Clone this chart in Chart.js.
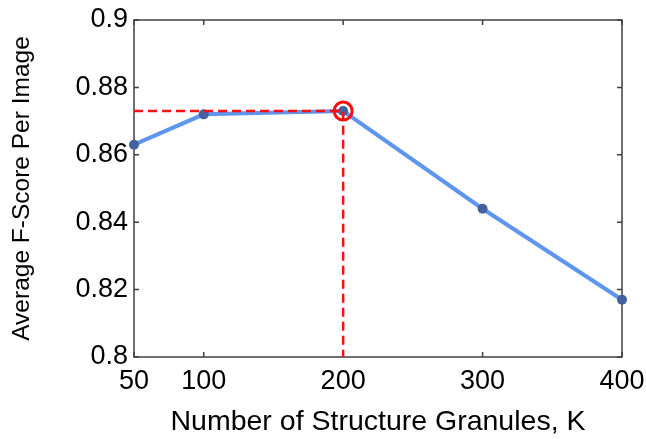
<!DOCTYPE html>
<html>
<head>
<meta charset="utf-8">
<script src="https://cdn.jsdelivr.net/npm/chart.js@4"></script>
<style>
html,body{margin:0;padding:0;background:#fff;}
canvas{display:block;}
</style>
</head>
<body>
<canvas id="c" width="646" height="439"></canvas>
<script>
const kValues = [50, 100, 200, 300, 400];
const fScores = [0.863, 0.872, 0.873, 0.844, 0.817];
const xTickValues = [50, 100, 200, 300, 400];
const xTickLabels = ['50', '100', '200', '300', '400'];
const yTickValues = [0.8, 0.82, 0.84, 0.86, 0.88, 0.9];
const yTickLabels = ['0.8', '0.82', '0.84', '0.86', '0.88', '0.9'];
const bestK = 200;
const bestScore = 0.873;
const xTitle = 'Number of Structure Granules, K';
const yTitle = 'Average F-Score Per Image';

const FONT = 'Liberation Sans, Arial, sans-serif';

const boxPlugin = {
  id: 'box',
  beforeDatasetsDraw(chart) {
    const {ctx, chartArea: a, scales} = chart;
    ctx.save();
    ctx.strokeStyle = '#404040';
    ctx.lineWidth = 1.5;
    ctx.strokeRect(a.left, a.top, a.right - a.left, a.bottom - a.top);
    const tl = 5;
    ctx.beginPath();
    xTickValues.forEach(v => {
      const px = scales.x.getPixelForValue(v);
      ctx.moveTo(px, a.bottom); ctx.lineTo(px, a.bottom - tl);
      ctx.moveTo(px, a.top); ctx.lineTo(px, a.top + tl);
    });
    yTickValues.forEach(v => {
      const py = scales.y.getPixelForValue(v);
      ctx.moveTo(a.left, py); ctx.lineTo(a.left + tl, py);
      ctx.moveTo(a.right, py); ctx.lineTo(a.right - tl, py);
    });
    ctx.stroke();
    ctx.restore();
  }
};

const lineData = kValues.map((k, i) => ({x: k, y: fScores[i]}));

new Chart(document.getElementById('c'), {
  type: 'scatter',
  data: {
    datasets: [
      {
        data: [{x: bestK, y: bestScore}],
        showLine: false,
        pointRadius: 9,
        pointBorderWidth: 3,
        pointBorderColor: '#ff1010',
        pointBackgroundColor: 'rgba(0,0,0,0)',
        clip: false
      },
      {
        data: [{x: kValues[0], y: bestScore}, {x: bestK, y: bestScore}, {x: bestK, y: yTickValues[0]}],
        showLine: true,
        borderColor: '#ff1010',
        borderWidth: 2.5,
        borderDash: [9, 5],
        pointRadius: 0,
        fill: false
      },
      {
        data: lineData,
        showLine: true,
        borderColor: '#5e95ee',
        borderWidth: 4,
        pointRadius: 5,
        pointBorderWidth: 0,
        pointBackgroundColor: '#44619e',
        fill: false,
        clip: false
      }
    ]
  },
  options: {
    responsive: false,
    animation: false,
    devicePixelRatio: 1,
    layout: {padding: {left: 0, right: 24, top: 20, bottom: 0}},
    plugins: {legend: {display: false}, tooltip: {enabled: false}},
    scales: {
      x: {
        type: 'linear',
        min: 50, max: 400,
        grid: {display: false, drawTicks: false},
        border: {display: false},
        afterBuildTicks: s => { s.ticks = xTickValues.map(v => ({value: v})); },
        afterFit: s => { s.height = 82; s.paddingLeft = 0; s.paddingRight = 0; },
        ticks: {
          padding: 8,
          color: '#000',
          font: {family: FONT, size: 27},
          maxRotation: 0,
          autoSkip: false,
          callback: (v) => xTickLabels[xTickValues.indexOf(v)]
        },
        title: {
          display: true,
          text: xTitle,
          color: '#000',
          font: {family: FONT, size: 28.5, lineHeight: 1.2},
          padding: {top: 0, bottom: 0}
        }
      },
      y: {
        type: 'linear',
        min: 0.8, max: 0.9,
        grid: {display: false, drawTicks: false},
        border: {display: false},
        afterBuildTicks: s => { s.ticks = yTickValues.map(v => ({value: v})); },
        afterFit: s => { s.width = 134; s.paddingTop = 0; s.paddingBottom = 0; },
        ticks: {
          padding: 6,
          color: '#000',
          font: {family: FONT, size: 27},
          autoSkip: false,
          callback: (v) => yTickLabels[yTickValues.findIndex(t => Math.abs(t - v) < 1e-9)]
        },
        title: {
          display: true,
          text: yTitle,
          color: '#000',
          font: {family: FONT, size: 24.5, lineHeight: 1.2},
          padding: {top: 8, bottom: 0}
        }
      }
    }
  },
  plugins: [boxPlugin]
});
</script>
</body>
</html>
